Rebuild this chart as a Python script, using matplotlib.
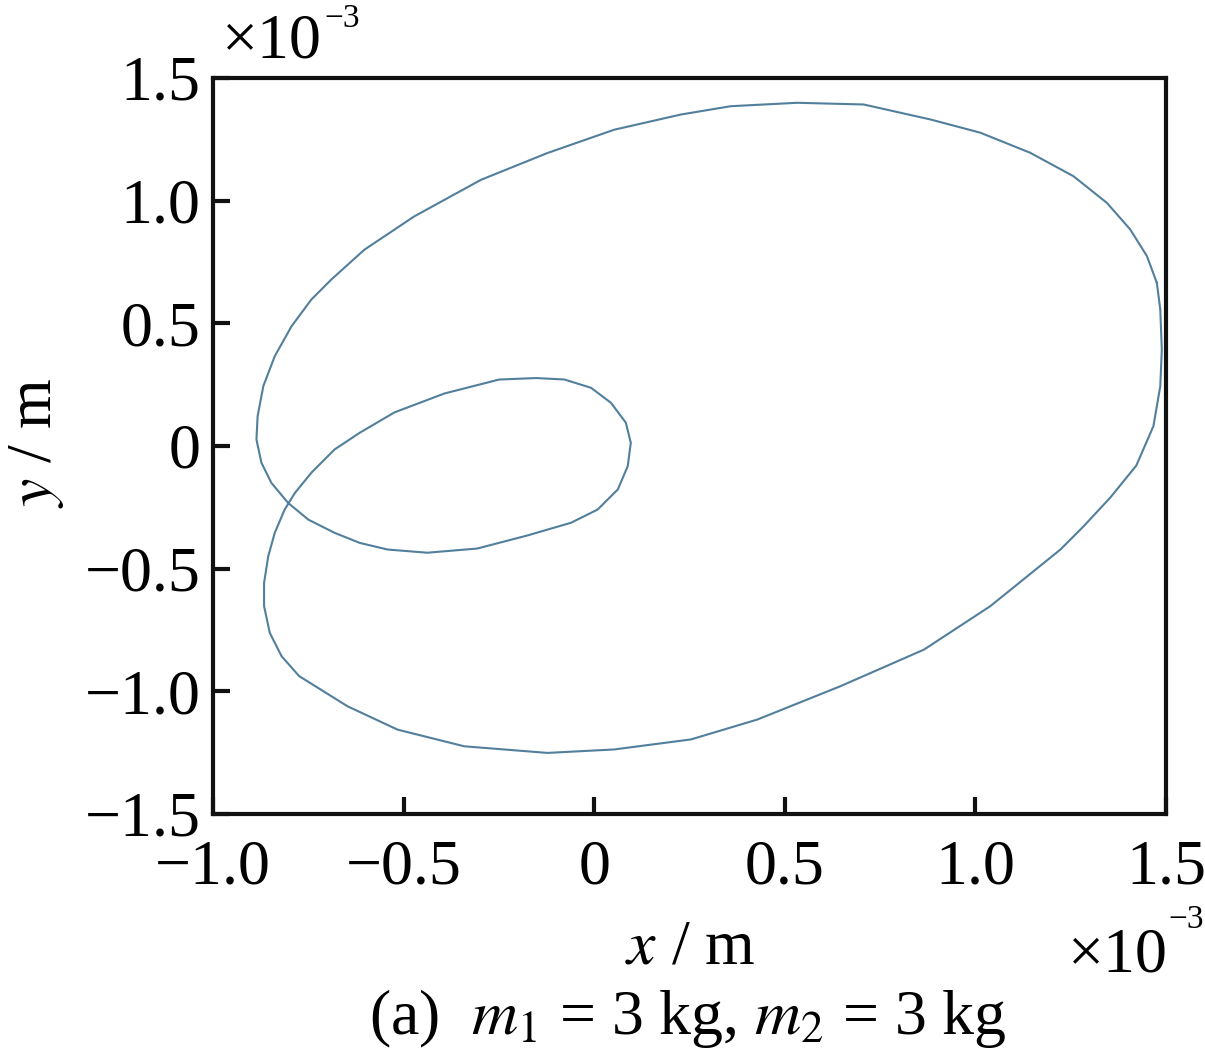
import numpy as np
import matplotlib.pyplot as plt

plt.rcParams['font.family'] = ['Liberation Serif', 'DejaVu Serif']
plt.rcParams['mathtext.fontset'] = 'stix'

# trajectory, units of 1e-3 m
x_mm = [1.476, 1.450, 1.406, 1.345, 1.257, 1.144, 1.013, 0.882, 0.707, 0.533,
        0.358, 0.227, 0.052, -0.123, -0.297, -0.472, -0.603, -0.690, -0.742, -0.794,
        -0.838, -0.868, -0.883, -0.886, -0.873, -0.847, -0.803, -0.750, -0.681, -0.615,
        -0.542, -0.438, -0.307, -0.176, -0.061, 0.009, 0.062, 0.088, 0.096, 0.083,
        0.044, -0.008, -0.078, -0.152, -0.249, -0.393, -0.524, -0.615, -0.681, -0.742,
        -0.785, -0.812, -0.838, -0.855, -0.866, -0.866, -0.851, -0.820, -0.774, -0.647,
        -0.516, -0.341, -0.123, 0.052, 0.254, 0.428, 0.646, 0.865, 1.039, 1.223,
        1.284, 1.354, 1.422, 1.467, 1.485, 1.489, 1.485, 1.476]
y_mm = [0.665, 0.774, 0.883, 0.991, 1.100, 1.195, 1.277, 1.331, 1.392, 1.399,
        1.385, 1.351, 1.289, 1.194, 1.085, 0.936, 0.800, 0.678, 0.597, 0.488,
        0.366, 0.244, 0.121, 0.026, -0.068, -0.150, -0.232, -0.300, -0.354, -0.395,
        -0.422, -0.435, -0.418, -0.365, -0.313, -0.259, -0.177, -0.082, 0.013, 0.095,
        0.176, 0.237, 0.271, 0.277, 0.271, 0.214, 0.137, 0.054, -0.014, -0.109,
        -0.191, -0.259, -0.354, -0.449, -0.558, -0.653, -0.762, -0.857, -0.938, -1.061,
        -1.156, -1.224, -1.251, -1.237, -1.196, -1.115, -0.979, -0.830, -0.653, -0.422,
        -0.327, -0.210, -0.080, 0.081, 0.244, 0.393, 0.556, 0.665]

xticks = [-1.0, -0.5, 0, 0.5, 1.0, 1.5]
yticks = [-1.5, -1.0, -0.5, 0, 0.5, 1.0, 1.5]

def lab(v):
    s = '0' if v == 0 else f'{abs(v):.1f}'
    return ('\u2212' + s) if v < 0 else s

W, H = 1205, 1052
fig = plt.figure(figsize=(W / 100, H / 100), dpi=100)
ax = fig.add_axes([213 / W, 1 - 814 / H, (1166 - 213) / W, (814 - 78) / H])

ax.plot(x_mm, y_mm, color='#527f9c', lw=1.5)

ax.set_xlim(-1.0, 1.5)
ax.set_ylim(-1.5, 1.5)
ax.set_xticks(xticks)
ax.set_xticklabels([lab(v) for v in xticks])
ax.set_yticks(yticks)
ax.set_yticklabels([lab(v) for v in yticks])
ax.tick_params(direction='in', length=12, width=3, labelsize=46, color='#111111')
ax.tick_params(axis='x', pad=18)
ax.tick_params(axis='y', pad=9)
for s in ax.spines.values():
    s.set_linewidth(3)
    s.set_color('#111111')

fs = 46
# scale factor (x10^-3) on both axes
fig.text(222 / W, 1 - 57 / H, '\u00d710', fontsize=fs, ha='left', va='baseline')
fig.text(324 / W, 1 - 27 / H, '\u22123', fontsize=24, ha='left', va='baseline')
fig.text(1068 / W, 1 - 971 / H, '\u00d710', fontsize=fs, ha='left', va='baseline')
fig.text(1168 / W, 1 - 928 / H, '\u22123', fontsize=24, ha='left', va='baseline')

fig.text(690 / W, 1 - 948 / H, r'$x$ / m', fontsize=fs, ha='center', va='center')
fig.text(37 / W, 1 - 443 / H, r'$y$ / m', fontsize=fs, ha='center', va='center', rotation=90)
fig.text(688 / W, 1 - 1018 / H, r'(a)  $m_1$ = 3 kg, $m_2$ = 3 kg', fontsize=fs,
         ha='center', va='center')

fig.savefig('out.png', dpi=100)
